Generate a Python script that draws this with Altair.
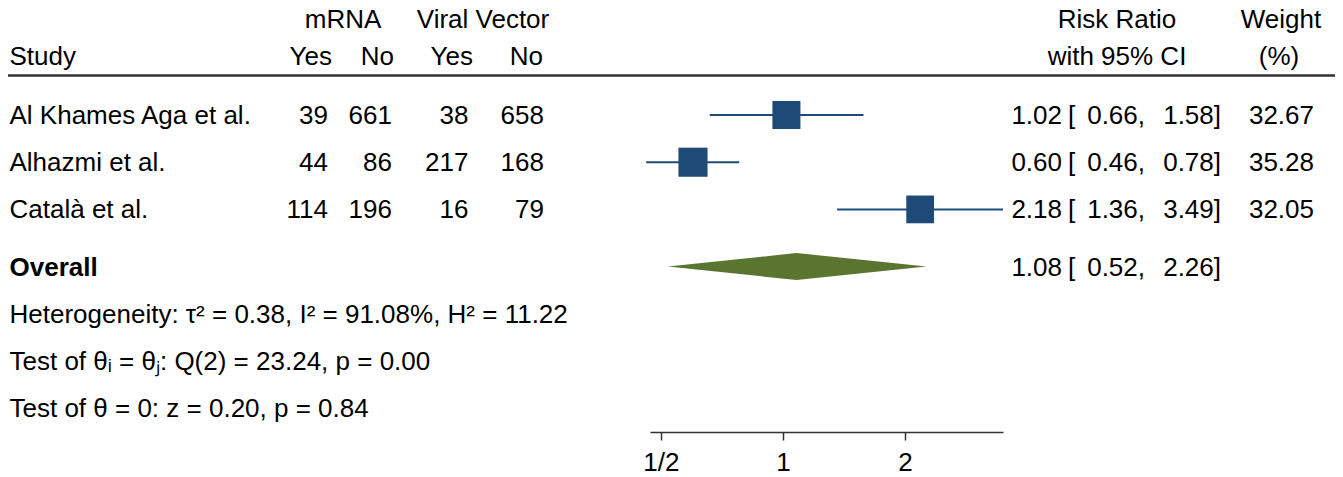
import altair as alt
import pandas as pd

# ---------------- data ----------------
studies = ["Al Khames Aga et al.", "Alhazmi et al.", "Català et al."]
mrna_yes = [39, 44, 114]
mrna_no = [661, 86, 196]
vv_yes = [38, 217, 16]
vv_no = [658, 168, 79]
rr = [1.02, 0.60, 2.18]
rr_lo = [0.66, 0.46, 1.36]
rr_hi = [1.58, 0.78, 3.49]
weights = [32.67, 35.28, 32.05]

overall_label = "Overall"
overall_rr = 1.08
overall_lo = 0.52
overall_hi = 2.26

stats_lines = [
    "Heterogeneity: τ² = 0.38, I² = 91.08%, H² = 11.22",
    "Test of θᵢ = θⱼ: Q(2) = 23.24, p = 0.00",
    "Test of θ = 0: z = 0.20, p = 0.84",
]

tick_values = [0.5, 1, 2]
tick_labels = ["1/2", "1", "2"]

# ---------------- layout ----------------
W, H = 1327, 424
FONT = "Liberation Sans"
FS = 26
DY = 9
STUDY_ROWS = [1, 2, 3]
OVERALL_ROW = 4.21
STATS_ROWS = [5.22, 6.215, 7.21]
HEAD1, HEAD2 = -1.034, -0.25
LINE_ROW = 0.163
DIAMOND_HALF = 0.286
BLUE = "#1d4a76"
GREEN = "#5a7530"

yscale = alt.Scale(domain=[-1.267, 7.716], reverse=True, nice=False, zero=False)
xscale = alt.Scale(type="log", base=2, domain=[0.47, 3.49], range=[642, 995], nice=False, zero=False)

label_expr = " : ".join(
    f"datum.value == {v} ? '{l}'" for v, l in zip(tick_values, tick_labels)
) + " : ''"
xaxis = alt.Axis(
    values=tick_values, labelExpr=label_expr, title=None, grid=False,
    domainColor="#333333", domainWidth=1.5, tickColor="#333333", tickWidth=1.5,
    tickSize=8, labelFont=FONT, labelFontSize=FS, labelColor="black",
    labelPadding=9, labelFlush=False, labelOverlap=False,
)

df = pd.DataFrame({
    "study": studies,
    "row": STUDY_ROWS,
    "my": [str(v) for v in mrna_yes],
    "mn": [str(v) for v in mrna_no],
    "vy": [str(v) for v in vv_yes],
    "vn": [str(v) for v in vv_no],
    "rr": rr, "lo": rr_lo, "hi": rr_hi, "w": weights,
})
df["rr_s"] = [f"{v:.2f}" for v in rr]
df["lo_s"] = [f"{v:.2f}," for v in rr_lo]
df["hi_s"] = [f"{v:.2f}]" for v in rr_hi]
df["w_s"] = [f"{v:.2f}" for v in weights]

Y = alt.Y("row:Q", scale=yscale, axis=None)


def txt(data, field, x, align="left", bold=False):
    return alt.Chart(data).mark_text(
        align=align, baseline="alphabetic", dy=DY, font=FONT, fontSize=FS,
        color="black", fontWeight="bold" if bold else "normal",
    ).encode(x=alt.value(x), y=Y, text=alt.Text(f"{field}:N"))


head_specs = [
    (HEAD1, "mRNA", 335, "center"),
    (HEAD1, "Viral Vector", 475, "center"),
    (HEAD1, "Risk Ratio", 1109, "center"),
    (HEAD1, "Weight", 1273, "center"),
    (HEAD2, "Study", 1.5, "left"),
    (HEAD2, "Yes", 324, "right"),
    (HEAD2, "No", 386, "right"),
    (HEAD2, "Yes", 465, "right"),
    (HEAD2, "No", 535, "right"),
    (HEAD2, "with 95% CI", 1109, "center"),
    (HEAD2, "(%)", 1271, "center"),
]
layers = []
for r, t, x, a in head_specs:
    layers.append(txt(pd.DataFrame({"row": [r], "t": [t]}), "t", x, a))

line = alt.Chart(pd.DataFrame({"row": [LINE_ROW]})).mark_rule(
    color="#333333", strokeWidth=2.4
).encode(y=Y, x=alt.value(0), x2=alt.value(W))
layers.append(line)

layers += [
    txt(df, "study", 1.5, "left"),
    txt(df, "my", 320, "right"),
    txt(df, "mn", 384, "right"),
    txt(df, "vy", 460.5, "right"),
    txt(df, "vn", 536, "right"),
    txt(df, "rr_s", 1054, "right"),
    txt(df.assign(b="["), "b", 1060, "left"),
    txt(df, "lo_s", 1137, "right"),
    txt(df, "hi_s", 1213, "right"),
    txt(df, "w_s", 1306, "right"),
]

X = alt.X("rr:Q", scale=xscale, axis=xaxis)
ci = alt.Chart(df).mark_rule(color=BLUE, strokeWidth=2).encode(
    x=alt.X("lo:Q", scale=xscale, axis=xaxis), x2="hi:Q", y=Y
)
sq = alt.Chart(df).mark_square(color=BLUE, opacity=1, filled=True).encode(
    x=X, y=Y,
    size=alt.Size("w:Q", scale=alt.Scale(type="linear", domain=[0, 100], range=[0, 2400]), legend=None),
)
layers += [ci, sq]

dia = pd.DataFrame({
    "x": [overall_lo, overall_rr, overall_hi],
    "row": [OVERALL_ROW, OVERALL_ROW - DIAMOND_HALF, OVERALL_ROW],
    "row2": [OVERALL_ROW, OVERALL_ROW + DIAMOND_HALF, OVERALL_ROW],
})
diamond = alt.Chart(dia).mark_area(color=GREEN, opacity=1, interpolate="linear").encode(
    x=alt.X("x:Q", scale=xscale, axis=xaxis), y=Y, y2="row2:Q"
)
layers.append(diamond)

ov = pd.DataFrame({
    "row": [OVERALL_ROW], "lab": [overall_label],
    "rr_s": [f"{overall_rr:.2f}"], "b": ["["],
    "lo_s": [f"{overall_lo:.2f},"], "hi_s": [f"{overall_hi:.2f}]"],
})
layers += [
    txt(ov, "lab", 1.5, "left", bold=True),
    txt(ov, "rr_s", 1054, "right"),
    txt(ov, "b", 1060, "left"),
    txt(ov, "lo_s", 1137, "right"),
    txt(ov, "hi_s", 1213, "right"),
]

st = pd.DataFrame({"row": STATS_ROWS, "t": stats_lines})
layers.append(txt(st, "t", 1.5, "left"))

chart = alt.layer(*layers).properties(
    width=W, height=H, autosize="none",
    padding={"left": 0, "top": 0, "right": 0, "bottom": 45},
).configure_view(strokeWidth=0)

chart.save("out.html", embed_options={"renderer": "svg", "actions": False})
